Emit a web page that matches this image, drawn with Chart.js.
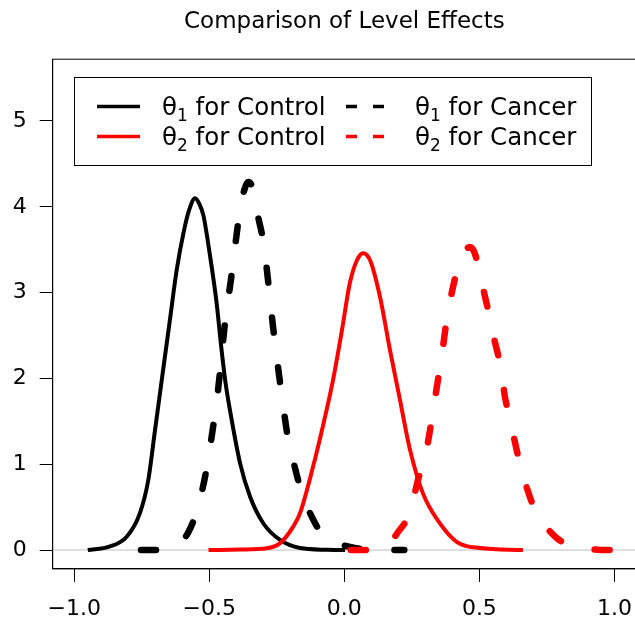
<!DOCTYPE html>
<html>
	<head>
		<meta charset="UTF-8">
		<title>Comparison of Level Effects</title>
		<script src="https://cdn.jsdelivr.net/npm/chart.js"></script>
		<style>
			* {padding: 0; margin: 0;}
			html, body {width: 635px; height: 627px; overflow: hidden; background: #fff;}
			canvas {display: block;}
		</style>
	</head>
	<body>
		<canvas id="myChart" width="640" height="627"></canvas>
		<script>
			// density curves
			const ctrl1X = [-0.95, -0.87, -0.806, -0.757, -0.726, -0.701, -0.683, -0.671, -0.646, -0.621, -0.596, -0.575, -0.553, -0.538, -0.522, -0.497, -0.473, -0.456, -0.44, -0.423, -0.386, -0.349, -0.301, -0.238, -0.164, -0.065, 0.003];
			const ctrl1Y = [0, 0.04, 0.155, 0.431, 0.816, 1.40, 1.82, 2.10, 2.68, 3.26, 3.69, 3.96, 4.10, 4.04, 3.90, 3.42, 2.88, 2.37, 1.95, 1.62, 1.01, 0.62, 0.315, 0.117, 0.023, 0.003, 0];

			const cancer1X = [-0.753, -0.672, -0.62, -0.579, -0.542, -0.51, -0.49, -0.47, -0.44, -0.42, -0.40, -0.385, -0.37, -0.355, -0.34, -0.319, -0.301, -0.286, -0.264, -0.238, -0.209, -0.19, -0.157, -0.127, -0.09, -0.053, 0.021, 0.09, 0.222];
			const cancer1Y = [0, 0, 0.06, 0.2, 0.5, 0.95, 1.35, 1.8, 2.7, 3.15, 3.65, 4.0, 4.2, 4.29, 4.22, 3.88, 3.61, 3.24, 2.6, 1.95, 1.31, 1.05, 0.66, 0.43, 0.22, 0.12, 0.035, 0.005, 0];

			const ctrl2X = [-0.503, -0.386, -0.287, -0.238, -0.19, -0.164, -0.116, -0.079, -0.042, -0.009, 0.021, 0.047, 0.069, 0.095, 0.132, 0.169, 0.206, 0.243, 0.291, 0.354, 0.417, 0.502, 0.661];
			const ctrl2Y = [0, 0.005, 0.02, 0.08, 0.27, 0.43, 0.97, 1.45, 1.98, 2.56, 3.12, 3.38, 3.46, 3.38, 2.95, 2.33, 1.75, 1.17, 0.66, 0.31, 0.093, 0.023, 0];

			const cancer2X = [0.024, 0.106, 0.16, 0.199, 0.243, 0.273, 0.30, 0.32, 0.34, 0.36, 0.38, 0.40, 0.428, 0.45, 0.465, 0.48, 0.497, 0.514, 0.532, 0.558, 0.577, 0.595, 0.614, 0.64, 0.662, 0.699, 0.743, 0.79, 0.836, 0.917, 1.0, 1.08];
			const cancer2Y = [0, 0, 0.06, 0.21, 0.44, 0.82, 1.1, 1.45, 1.85, 2.25, 2.7, 3.03, 3.38, 3.5, 3.53, 3.48, 3.3, 3.05, 2.80, 2.42, 2.16, 1.78, 1.52, 1.14, 0.87, 0.52, 0.29, 0.13, 0.06, 0.01, 0, 0];

			const xTicks = [-1, -0.5, 0, 0.5, 1];
			const xTickLabels = ['\u22121.0', '\u22120.5', '0.0', '0.5', '1.0'];
			const yTicks = [0, 1, 2, 3, 4, 5];
			const yTickLabels = ['0', '1', '2', '3', '4', '5'];

			const chartTitle = 'Comparison of Level Effects';
			const FONT = "'DejaVu Sans', sans-serif";

			function pts(xs, ys){
				return xs.map((x, i) => ({x: x, y: ys[i]}));
			}

			// legend, title, box and zero line, drawn like the R plot
			const rDecor = {
				id: 'rDecor',
				beforeDatasetsDraw(chart){
					const {ctx, chartArea: a, scales} = chart;
					const y0 = scales.y.getPixelForValue(0);
					ctx.save();
					ctx.strokeStyle = '#bebebe';
					ctx.lineWidth = 1;
					ctx.beginPath();
					ctx.moveTo(a.left, y0);
					ctx.lineTo(a.right, y0);
					ctx.stroke();
					ctx.restore();
				},
				afterDraw(chart){
					const {ctx, chartArea: a} = chart;
					ctx.save();
					// box
					ctx.strokeStyle = '#000';
					ctx.lineWidth = 1;
					ctx.strokeRect(a.left, a.top, a.right - a.left, a.bottom - a.top);

					// title
					ctx.fillStyle = '#000';
					ctx.font = '23px ' + FONT;
					ctx.textAlign = 'center';
					ctx.textBaseline = 'alphabetic';
					ctx.fillText(chartTitle, (a.left + a.right) / 2, 28);

					// legend box
					ctx.strokeRect(74.5, 77.5, 517, 88);

					const cols = [{sx: 97, tx: 162}, {sx: 346, tx: 415}];
					const rows = [106.5, 136.5];
					// order in legend: col 1 = Control, col 2 = Cancer
					const items = [[0, 0, 0], [1, 1, 0], [2, 0, 1], [3, 1, 1]];
					items.forEach(([di, c, r]) => {
						const ds = chart.data.datasets[di];
						const y = rows[r];
						ctx.strokeStyle = ds.borderColor;
						ctx.lineWidth = 3.5;
						ctx.lineCap = 'butt';
						ctx.setLineDash(ds.borderDash.length ? [11, 16] : []);
						ctx.beginPath();
						ctx.moveTo(cols[c].sx, y);
						ctx.lineTo(cols[c].sx + 43, y);
						ctx.stroke();
						ctx.setLineDash([]);

						// label: symbol, subscript, rest
						const lab = ds.label;
						let x = cols[c].tx;
						const base = y + 8.5;
						ctx.fillStyle = '#000';
						ctx.textAlign = 'left';
						ctx.font = '24.5px ' + FONT;
						ctx.fillText(lab[0], x, base);
						x += ctx.measureText(lab[0]).width;
						ctx.font = '17px ' + FONT;
						ctx.fillText(lab[1], x, base + 6);
						x += ctx.measureText(lab[1]).width;
						ctx.font = '24.5px ' + FONT;
						ctx.fillText(lab.slice(2), x, base);
					});
					ctx.restore();
				}
			};

			const ctx = document.getElementById('myChart');
			new Chart(ctx, {
				type: 'line',
				data: {
					datasets: [
						{label: 'θ1 for Control', data: pts(ctrl1X, ctrl1Y), borderColor: '#000000', borderWidth: 4, borderDash: [], order: 3},
						{label: 'θ1 for Cancer', data: pts(cancer1X, cancer1Y), borderColor: '#000000', borderWidth: 6.5, borderDash: [15, 35], borderCapStyle: 'round', order: 2},
						{label: 'θ2 for Control', data: pts(ctrl2X, ctrl2Y), borderColor: '#ff0000', borderWidth: 4, borderDash: [], order: 1},
						{label: 'θ2 for Cancer', data: pts(cancer2X, cancer2Y), borderColor: '#ff0000', borderWidth: 6.5, borderDash: [15, 35], borderCapStyle: 'round', order: 0}
					]
				},
				options: {
					responsive: false,
					animation: false,
					devicePixelRatio: 1,
					elements: {
						point: {radius: 0},
						line: {cubicInterpolationMode: 'monotone', borderJoinStyle: 'round', fill: false}
					},
					layout: {padding: {top: 59.2, right: 4, left: 0, bottom: 0}},
					plugins: {
						legend: {display: false},
						tooltip: {enabled: false},
						title: {display: false}
					},
					scales: {
						x: {
							type: 'linear',
							position: 'bottom',
							min: -1.08,
							max: 1.08,
							afterBuildTicks: s => { s.ticks = xTicks.map(v => ({value: v})); },
							afterFit: s => { s.height = 58.1; s.paddingLeft = 0; s.paddingRight = 0; },
							grid: {drawOnChartArea: false, drawTicks: true, tickLength: 13, color: '#000', lineWidth: 1},
							border: {display: true, color: '#000', width: 1},
							ticks: {
								color: '#000',
								font: {family: FONT, size: 22},
								padding: 14,
								maxRotation: 0,
								autoSkip: false,
								callback: (v) => xTickLabels[xTicks.indexOf(v)]
							}
						},
						y: {
							type: 'linear',
							position: 'left',
							min: -0.22,
							max: 5.72,
							afterBuildTicks: s => { s.ticks = yTicks.map(v => ({value: v})); },
							afterFit: s => { s.width = 52.7; s.paddingTop = 0; s.paddingBottom = 0; },
							grid: {drawOnChartArea: false, drawTicks: true, tickLength: 13, color: '#000', lineWidth: 1},
							border: {display: true, color: '#000', width: 1},
							ticks: {
								color: '#000',
								font: {family: FONT, size: 22},
								padding: 13,
								autoSkip: false,
								callback: (v) => yTickLabels[yTicks.indexOf(v)]
							}
						}
					}
				},
				plugins: [rDecor]
			});
		</script>
	</body>
</html>
